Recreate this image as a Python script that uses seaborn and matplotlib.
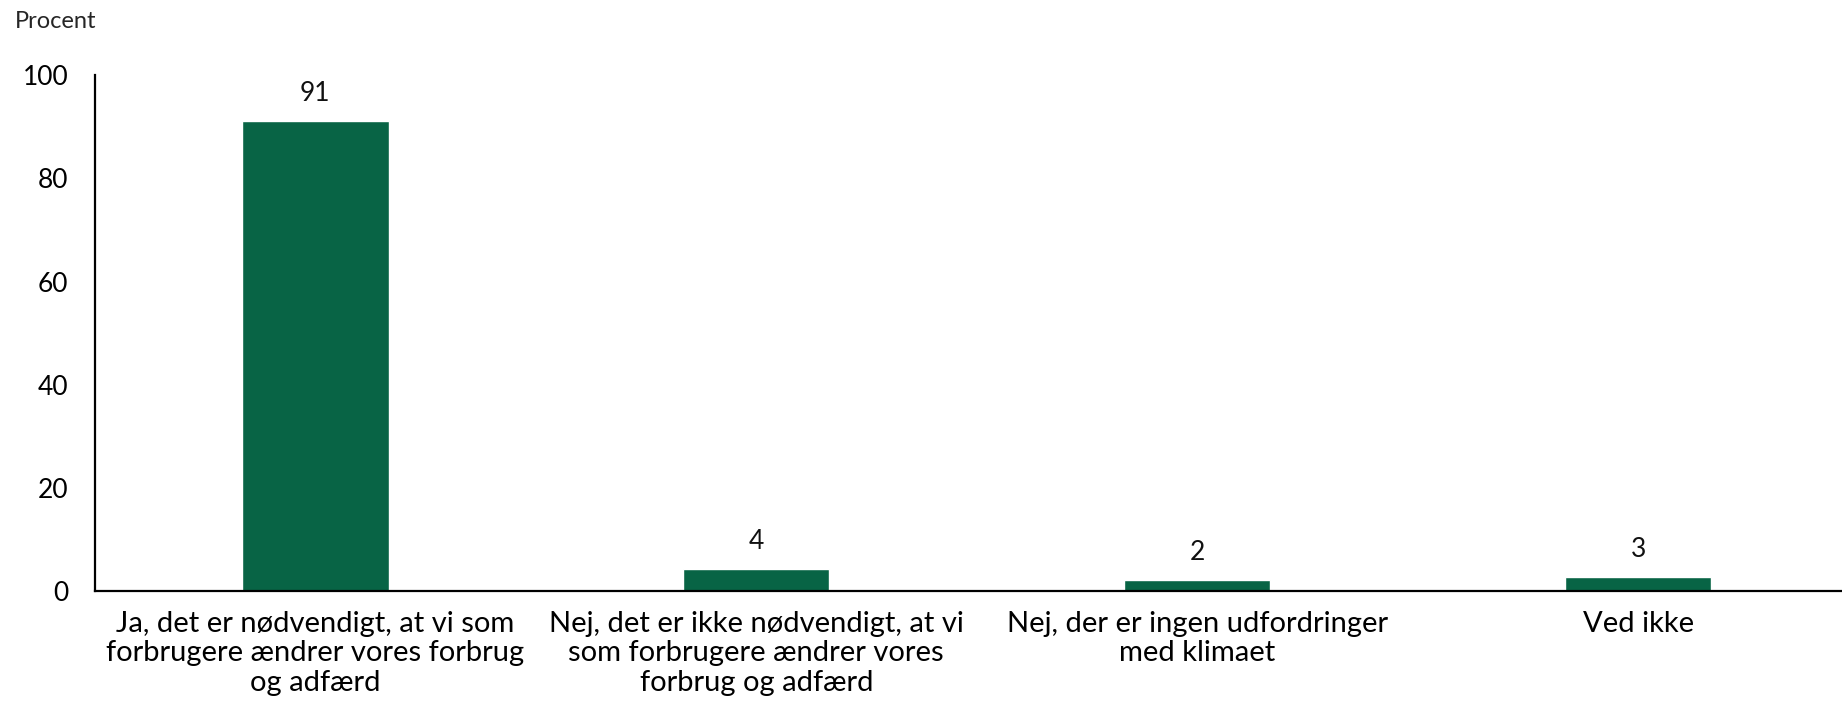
import matplotlib
matplotlib.use("Agg")
from matplotlib import pyplot as plt
import pandas as pd
import seaborn as sns

# Data
categories = [
    "Ja, det er nødvendigt, at vi som\nforbrugere ændrer vores forbrug\nog adfærd",
    "Nej, det er ikke nødvendigt, at vi\nsom forbrugere ændrer vores\nforbrug og adfærd",
    "Nej, der er ingen udfordringer\nmed klimaet",
    "Ved ikke",
]
values = [91.1, 4.3, 2.1, 2.7]
y_ticks = [0, 20, 40, 60, 80, 100]

df = pd.DataFrame({"svar": categories, "procent": values})

# Style
sns.set_style("white")
plt.rcParams["font.family"] = ["Lato", "DejaVu Sans"]

f, ax = plt.subplots(figsize=(18.42, 7.03), dpi=100)
f.subplots_adjust(left=0.0515, right=1.009, bottom=0.159, top=0.893)

# Bars
sns.barplot(data=df, x="svar", y="procent", color="#086445", width=0.332,
            saturation=1, ax=ax)

# Value labels
for c in ax.containers:
    ax.bar_label(c, fmt="%.0f", padding=11, fontsize=19, color="#111111")

# Axes
ax.set_ylim(0, 100)
ax.set_yticks(y_ticks)
ax.set_xlabel("")
ax.set_ylabel("")
for s in ["top", "right"]:
    ax.spines[s].set_visible(False)
for s in ["left", "bottom"]:
    ax.spines[s].set_color("black")
    ax.spines[s].set_linewidth(1.6)
ax.tick_params(axis="y", direction="in", length=6, width=1.6, pad=19,
               labelsize=19, colors="black")
ax.tick_params(axis="x", length=0, pad=14, labelsize=21, colors="black")
for lbl in ax.get_xticklabels():
    lbl.set_linespacing(1.18)

# Unit label
f.text(0.008, 0.97, "Procent", fontsize=17, ha="left", va="center")

plt.savefig("out.png", dpi=100)
